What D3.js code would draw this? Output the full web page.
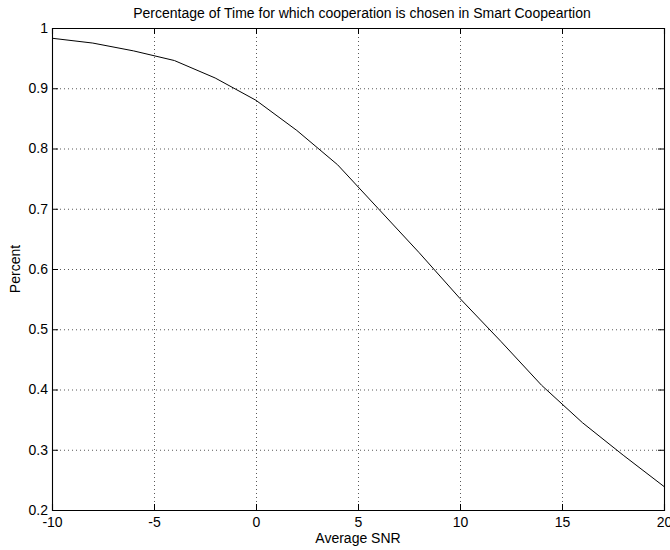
<!DOCTYPE html>
<html>
<head>
<meta charset="utf-8">
<script src="https://cdn.jsdelivr.net/npm/d3@7"></script>
<style>
  body { margin: 0; background: #fff; }
  text { font-family: "Liberation Sans", Arial, sans-serif; }
</style>
</head>
<body>
<div id="chart"></div>
<script>
// data
const snr = [-10, -8, -6, -4, -2, 0, 2, 4, 6, 8, 10, 12, 14, 16, 18, 20];
const percent = [0.983, 0.975, 0.962, 0.946, 0.917, 0.880, 0.830, 0.773, 0.700,
                 0.627, 0.551, 0.480, 0.407, 0.345, 0.291, 0.239];
const xTicks = [-10, -5, 0, 5, 10, 15, 20];
const yTicks = [0.2, 0.3, 0.4, 0.5, 0.6, 0.7, 0.8, 0.9, 1];

const titleText = "Percentage of Time for which cooperation is chosen in Smart Coopeartion";
const xLabel = "Average SNR";
const yLabel = "Percent";

/* svg setup */
const W = 670, H = 550;
const margin = { top: 28, right: 6, bottom: 40, left: 52 };
const width = W - margin.left - margin.right;
const height = H - margin.top - margin.bottom;
const fontSize = 14;

const root = d3.select("#chart").append("svg")
  .attr("width", W)
  .attr("height", H);

const svg = root.append("g")
  .attr("transform", `translate(${margin.left},${margin.top})`);

const x = d3.scaleLinear().domain([-10, 20]).range([0, width]);
const y = d3.scaleLinear().domain([0.2, 1]).range([height, 0]);

const fmt = d => String(+d.toFixed(1));

// dotted grid
svg.append("g")
  .attr("class", "grid")
  .attr("transform", `translate(0,${height})`)
  .call(d3.axisBottom(x).tickValues(xTicks.slice(1, -1)).tickSize(-height).tickFormat(""))
  .call(g => g.select(".domain").remove());
svg.append("g")
  .attr("class", "grid")
  .call(d3.axisLeft(y).tickValues(yTicks.slice(1, -1)).tickSize(-width).tickFormat(""))
  .call(g => g.select(".domain").remove());
svg.selectAll(".grid line")
  .attr("stroke", "#000")
  .attr("stroke-width", 1)
  .attr("stroke-dasharray", "1,3")
  .attr("opacity", 0.65);

// axes with inward ticks on all four sides
const tick = 6;
const bottom = svg.append("g")
  .attr("transform", `translate(0,${height})`)
  .call(d3.axisBottom(x).tickValues(xTicks).tickSize(-tick).tickPadding(7).tickFormat(fmt));
const left = svg.append("g")
  .call(d3.axisLeft(y).tickValues(yTicks).tickSize(-tick).tickPadding(4).tickFormat(fmt));
svg.append("g")
  .call(d3.axisTop(x).tickValues(xTicks).tickSize(-tick).tickFormat(""));
svg.append("g")
  .attr("transform", `translate(${width},0)`)
  .call(d3.axisRight(y).tickValues(yTicks).tickSize(-tick).tickFormat(""));

svg.selectAll(".domain").attr("stroke", "#000").attr("stroke-width", 1.1);
bottom.selectAll("text").attr("font-size", fontSize).attr("fill", "#000");
left.selectAll("text").attr("font-size", fontSize).attr("fill", "#000");

// curve
const line = d3.line()
  .x((d, i) => x(snr[i]))
  .y(d => y(d));
svg.append("path")
  .datum(percent)
  .attr("fill", "none")
  .attr("stroke", "#000")
  .attr("stroke-width", 1)
  .attr("d", line);

// title and labels
root.append("text")
  .attr("x", margin.left + width / 2 + 4)
  .attr("y", 18)
  .attr("text-anchor", "middle")
  .attr("font-size", fontSize)
  .text(titleText);

root.append("text")
  .attr("x", margin.left + width / 2)
  .attr("y", 543)
  .attr("text-anchor", "middle")
  .attr("font-size", fontSize)
  .text(xLabel);

root.append("text")
  .attr("transform", `translate(20,${margin.top + height / 2}) rotate(-90)`)
  .attr("text-anchor", "middle")
  .attr("font-size", fontSize)
  .text(yLabel);
</script>
</body>
</html>
